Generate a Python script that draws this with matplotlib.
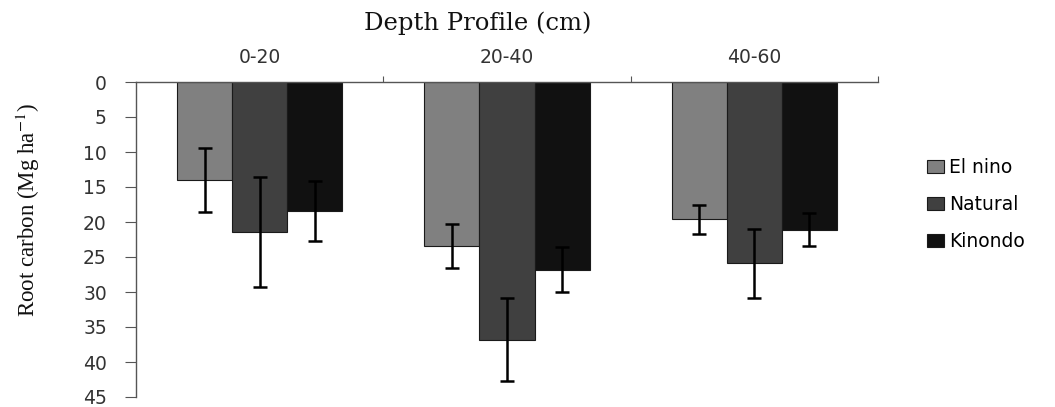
import matplotlib
matplotlib.use("Agg")
import matplotlib.pyplot as plt
import numpy as np

plt.rcParams["mathtext.fontset"] = "stix"

categories = ["0-20", "20-40", "40-60"]
series = ["El nino", "Natural", "Kinondo"]
el_nino = [14.0, 23.4, 19.6]
natural = [21.4, 36.8, 25.9]
kinondo = [18.4, 26.8, 21.1]
el_nino_err = [4.6, 3.15, 2.1]
natural_err = [7.9, 5.9, 4.9]
kinondo_err = [4.3, 3.25, 2.35]
colors = ["#808080", "#404040", "#111111"]
y_ticks = [0, 5, 10, 15, 20, 25, 30, 35, 40, 45]

fig = plt.figure(figsize=(10.55, 4.07), dpi=100)
ax = fig.add_axes([136/1055, 10/407, (878-136)/1055, (397-82)/407])

x = np.arange(len(categories))
w = 0.223
vals = [el_nino, natural, kinondo]
errs = [el_nino_err, natural_err, kinondo_err]
for i, (v, e, c, name) in enumerate(zip(vals, errs, colors, series)):
    ax.bar(x + (i - 1) * w, v, width=w, color=c, edgecolor="#1a1a1a", linewidth=0.8,
           label=name, zorder=2)
    ax.errorbar(x + (i - 1) * w, v, yerr=e, fmt="none", ecolor="black",
                elinewidth=1.8, capsize=4.8, capthick=1.8, zorder=3)

ax.set_xlim(-0.5, 2.5)
ax.set_ylim(45, 0)
ax.set_yticks(y_ticks)
ax.xaxis.tick_top()
ax.set_xticks([0.5, 1.5, 2.5], minor=False)
ax.set_xticklabels([])
ax.set_xticks(x, minor=True)
ax.set_xticklabels(categories, minor=True, fontsize=13.5, color="#333333")
ax.tick_params(axis="x", which="major", length=4, direction="out", color="#555555")
ax.tick_params(axis="x", which="minor", length=0, pad=11)
ax.tick_params(axis="y", length=8, direction="out", color="#555555",
               labelsize=13.5, labelcolor="#333333", pad=13)
for s in ["right", "bottom"]:
    ax.spines[s].set_visible(False)
for s in ["left", "top"]:
    ax.spines[s].set_color("#555555")
    ax.spines[s].set_linewidth(1.0)

fig.text(478/1055, 1 - 23/407, "Depth Profile (cm)", fontsize=17.5, family="DejaVu Serif",
         ha="center", va="center", color="#111111")
ax.set_ylabel("Root carbon (Mg ha$^{-1}$)", fontsize=16.5, family="Liberation Serif",
              color="#111111")
ax.yaxis.label.set_va("center")
ax.yaxis.set_label_coords((28 - 136) / 742, (397 - 210) / 315)

ax.legend(loc="upper left", bbox_to_anchor=(0.066, 0.759), bbox_transform=ax.transAxes,
          frameon=False, fontsize=13.5, handlelength=0.9, handleheight=0.7,
          handletextpad=0.3, labelspacing=0.97, borderpad=0, borderaxespad=0)
leg = ax.get_legend()
leg.set_bbox_to_anchor((1.066, 0.759), transform=ax.transAxes)

fig.savefig("out.png", dpi=100)
